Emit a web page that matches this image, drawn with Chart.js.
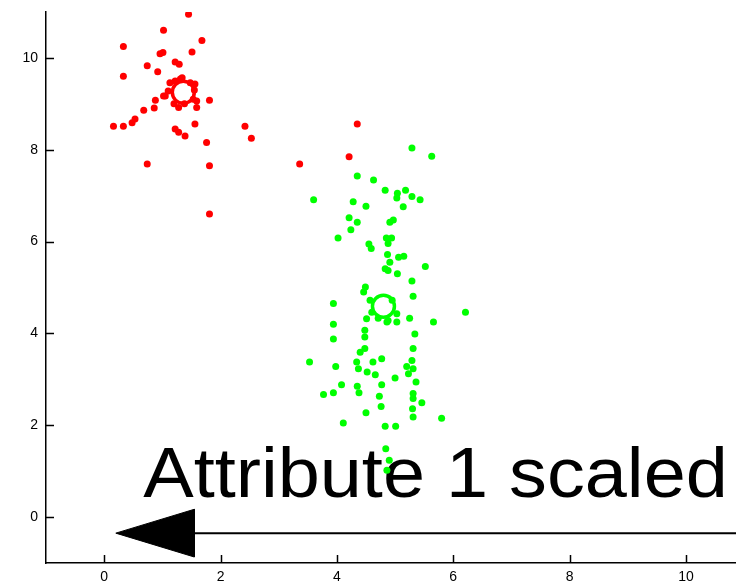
<!DOCTYPE html>
<html lang="en">
<head>
  <meta charset="UTF-8" />
  <title>Scaled attributes - Chart.js</title>
  <script src="https://cdn.jsdelivr.net/npm/chart.js"></script>
  <style>
    body { margin: 0; background: #fff; overflow: hidden; }
    .wrap { width: 736px; height: 587px; position: relative; }
  </style>
</head>
<body>
  <div class="wrap"><canvas id="scatter"></canvas></div>

  <script>
    // cluster 1 (red)
    const redX = [1.45, 1.02, 0.33, 1.68, 1.51, 0.96, 1.01, 1.22, 1.29, 0.74, 0.92, 0.33, 1.34,
      1.13, 1.22, 1.31, 1.48, 1.56, 1.10, 1.05, 1.53, 1.28, 1.59, 1.59, 1.38, 1.20, 1.55,
      1.81, 0.88, 0.86, 1.02, 0.68, 0.53, 0.48, 0.33, 0.16, 1.56, 1.22, 1.28, 1.39,
      2.42, 2.53, 1.76, 0.74, 1.81, 1.81, 3.36, 4.35, 4.21];
    const redY = [10.95, 10.60, 10.25, 10.38, 10.13, 10.09, 10.12, 9.91, 9.86, 9.83, 9.70, 9.60, 9.57,
      9.46, 9.50, 9.54, 9.46, 9.43, 9.28, 9.17, 9.10, 8.92, 8.92, 9.06, 9.00, 9.00, 9.30,
      9.08, 9.08, 8.91, 9.17, 8.86, 8.67, 8.59, 8.51, 8.51, 8.56, 8.45, 8.38, 8.30,
      8.51, 8.25, 8.16, 7.69, 7.65, 6.60, 7.69, 8.56, 7.85];

    // cluster 2 (green)
    const greenX = [5.29, 5.63, 4.35, 4.63, 4.83, 5.04, 5.03, 5.18, 5.29, 5.43, 3.60, 4.28, 4.50, 5.14,
      4.21, 4.35, 4.24, 4.91, 4.97, 4.02, 4.85, 4.94, 4.88, 4.55, 4.59, 4.87, 5.15, 5.06,
      4.91, 4.83, 4.88, 5.52, 5.04, 5.29, 4.49, 4.46, 5.31, 3.94, 6.21, 5.25, 5.66, 3.94,
      4.48, 4.48, 5.34, 3.94, 5.31, 4.48, 4.40, 4.77, 4.62, 4.34, 4.37, 5.29, 5.20, 5.31,
      5.23, 3.53, 3.98, 4.52, 4.66, 5.00, 5.36, 4.08, 4.77, 4.35, 4.38, 3.77, 3.94, 5.31,
      5.31, 5.46, 5.30, 5.31, 4.73, 4.76, 4.50, 5.80, 4.11, 4.83, 5.01, 4.84, 4.90, 4.86,
      4.57, 4.60, 4.95, 5.03, 4.71, 4.88, 4.51, 4.86, 5.03];
    const greenY = [8.04, 7.86, 7.43, 7.34, 7.12, 7.05, 6.95, 7.12, 6.98, 6.91, 6.91, 6.87, 6.77, 6.76,
      6.52, 6.42, 6.26, 6.42, 6.47, 6.08, 6.08, 6.08, 5.96, 5.95, 5.85, 5.72, 5.68, 5.66,
      5.55, 5.41, 5.37, 5.46, 5.30, 5.14, 5.01, 4.90, 4.81, 4.65, 4.46, 4.33, 4.25, 4.20,
      4.07, 3.92, 3.99, 3.88, 3.67, 3.67, 3.59, 3.45, 3.38, 3.38, 3.23, 3.41, 3.28, 3.23,
      3.12, 3.38, 3.28, 3.16, 3.10, 3.03, 2.94, 2.88, 2.88, 2.85, 2.71, 2.67, 2.71, 2.69,
      2.58, 2.49, 2.36, 2.18, 2.63, 2.41, 2.27, 2.15, 2.05, 1.98, 1.98, 1.49, 1.24, 1.02,
      4.72, 4.46, 4.72, 4.43, 4.33, 4.28, 4.32, 4.25, 4.25];

    // cluster centres
    const centreRed = [1.36, 9.25];
    const centreGreen = [4.80, 4.59];

    // arrow along the bottom, and its label
    const arrowY = -0.35;
    const arrowTipX = 0.2;
    const arrowBaseX = 1.55;
    const arrowHalf = 0.52;
    const arrowEndX = 11;
    const labelText = 'Attribute 1 scaled';
    const labelX = [0.67, 10.72];
    const labelY = 0.43;

    const xTicks = [0, 2, 4, 6, 8, 10];
    const yTicks = [0, 2, 4, 6, 8, 10];

    const toPts = (xs, ys) => xs.map((x, i) => ({ x: x, y: ys[i] }));

    // ticks that point into the plot, plus the big text label
    const extras = {
      id: 'extras',
      beforeDatasetsDraw(chart) {
        const { ctx, scales: { x, y } } = chart;
        ctx.save();
        ctx.fillStyle = '#000';
        ctx.font = '70px "Liberation Sans", Arial, sans-serif';
        ctx.textBaseline = 'alphabetic';
        const left = x.getPixelForValue(labelX[0]);
        const want = x.getPixelForValue(labelX[1]) - left;
        const w = ctx.measureText(labelText).width;
        ctx.translate(left, y.getPixelForValue(labelY));
        ctx.scale(want / w, 1);
        ctx.fillText(labelText, 0, 0);
        ctx.restore();
      },
      afterDraw(chart) {
        const { ctx, scales: { x, y } } = chart;
        ctx.save();
        ctx.strokeStyle = '#000';
        ctx.lineWidth = 1.5;
        ctx.beginPath();
        x.ticks.forEach(t => {
          const px = Math.round(x.getPixelForValue(t.value)) + 0.5;
          ctx.moveTo(px, y.bottom);
          ctx.lineTo(px, y.bottom - 8);
        });
        y.ticks.forEach(t => {
          const py = Math.round(y.getPixelForValue(t.value)) + 0.5;
          ctx.moveTo(x.left, py);
          ctx.lineTo(x.left + 8, py);
        });
        ctx.stroke();
        ctx.restore();
      }
    };

    const tickFont = { family: '"Liberation Sans", Arial, sans-serif', size: 14 };

    new Chart(document.getElementById('scatter'), {
      type: 'scatter',
      data: {
        datasets: [
          {
            label: 'arrow head',
            data: [
              { x: arrowTipX, y: arrowY },
              { x: arrowBaseX, y: arrowY + arrowHalf },
              { x: arrowBaseX, y: arrowY - arrowHalf },
              { x: arrowTipX, y: arrowY }
            ],
            showLine: true,
            fill: 'shape',
            backgroundColor: '#000',
            borderColor: '#000',
            borderWidth: 1,
            pointRadius: 0,
            order: 5
          },
          {
            label: 'arrow line',
            data: [{ x: arrowBaseX, y: arrowY }, { x: arrowEndX, y: arrowY }],
            showLine: true,
            borderColor: '#000',
            borderWidth: 2,
            pointRadius: 0,
            order: 5
          },
          {
            label: 'cluster 1',
            data: toPts(redX, redY),
            backgroundColor: '#ff0000',
            borderColor: '#ff0000',
            pointRadius: 3.5,
            borderWidth: 0,
            order: 2
          },
          {
            label: 'cluster 2',
            data: toPts(greenX, greenY),
            backgroundColor: '#00ff00',
            borderColor: '#00ff00',
            pointRadius: 3.5,
            borderWidth: 0,
            order: 2
          },
          {
            label: 'centres',
            data: [
              { x: centreRed[0], y: centreRed[1] },
              { x: centreGreen[0], y: centreGreen[1] }
            ],
            pointRadius: 11,
            pointBorderWidth: 3.5,
            backgroundColor: 'rgba(0,0,0,0)',
            borderColor: ['#ff0000', '#00ff00'],
            order: 1
          }
        ]
      },
      options: {
        responsive: true,
        maintainAspectRatio: false,
        animation: false,
        events: [],
        layout: { autoPadding: false, padding: { top: 12, right: 0, left: 0, bottom: 0 } },
        plugins: {
          legend: { display: false },
          tooltip: { enabled: false }
        },
        scales: {
          x: {
            type: 'linear',
            min: -1,
            max: 10.86,
            afterBuildTicks: s => { s.ticks = xTicks.map(v => ({ value: v })); },
            afterFit: s => { s.height = 24; s.paddingLeft = 0; s.paddingRight = 0; },
            grid: { display: false, drawTicks: false },
            border: { display: true, color: '#000', width: 1.5 },
            ticks: { color: '#000', font: tickFont, padding: 6, maxRotation: 0 }
          },
          y: {
            type: 'linear',
            min: -1,
            max: 11,
            afterBuildTicks: s => { s.ticks = yTicks.map(v => ({ value: v })); },
            afterFit: s => { s.width = 46; s.paddingTop = 0; s.paddingBottom = 0; },
            grid: { display: false, drawTicks: false },
            border: { display: true, color: '#000', width: 1.5 },
            ticks: { color: '#000', font: tickFont, padding: 8 }
          }
        }
      },
      plugins: [extras]
    });
  </script>
</body>
</html>
